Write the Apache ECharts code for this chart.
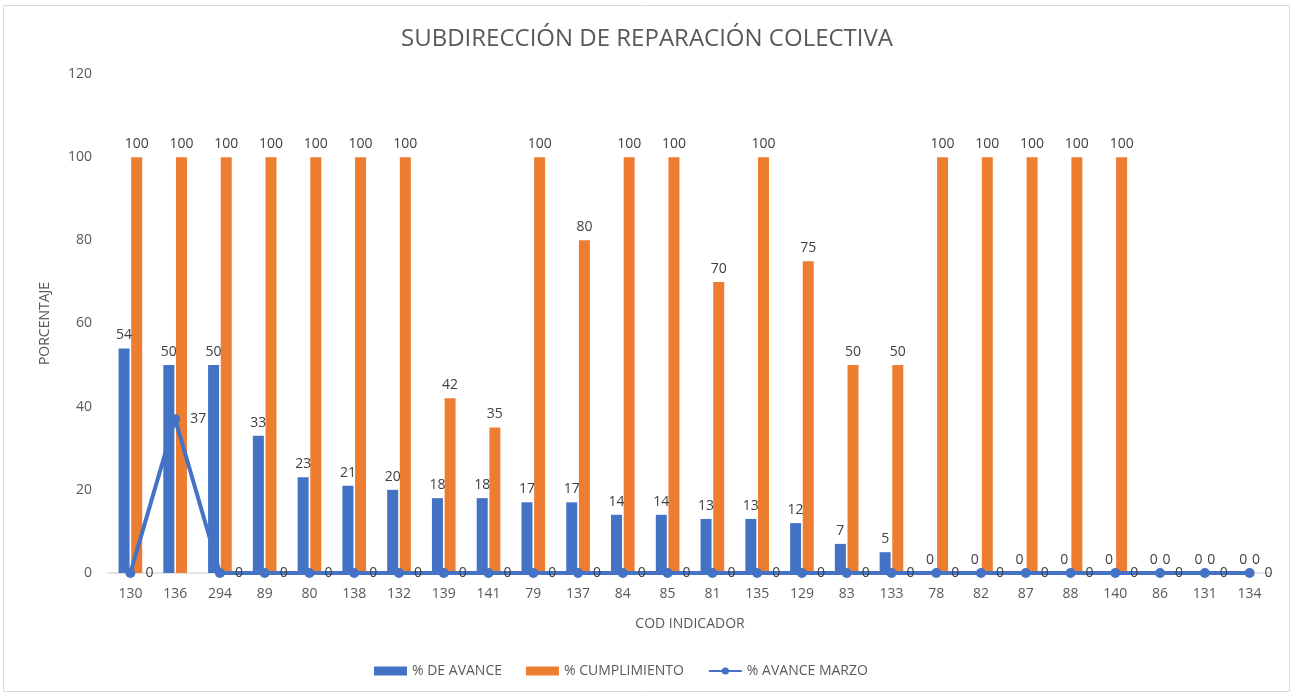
<!DOCTYPE html>
<html>
<head>
<meta charset="utf-8">
<script src="https://cdn.jsdelivr.net/npm/echarts@6/dist/echarts.min.js"></script>
<style>
  html, body { margin: 0; padding: 0; background: #fff; }
  #chart { width: 1294px; height: 696px; }
</style>
</head>
<body>
<div id="chart"></div>
<script>
// categories (COD INDICADOR)
const codes = ['130', '136', '294', '89', '80', '138', '132', '139', '141', '79', '137', '84', '85',
  '81', '135', '129', '83', '133', '78', '82', '87', '88', '140', '86', '131', '134'];

// series values
const avance = [54, 50, 50, 33, 23, 21, 20, 18, 18, 17, 17, 14, 14, 13, 13, 12, 7, 5, 0, 0, 0, 0, 0, 0, 0, 0];
const cumplimiento = [100, 100, 100, 100, 100, 100, 100, 42, 35, 100, 80, 100, 100, 70, 100, 75, 50, 50,
  100, 100, 100, 100, 100, 0, 0, 0];
const avanceMarzo = [0, 37, 0, 0, 0, 0, 0, 0, 0, 0, 0, 0, 0, 0, 0, 0, 0, 0, 0, 0, 0, 0, 0, 0, 0, 0];

const yTicks = { min: 0, max: 120, interval: 20 };

const chart = echarts.init(document.getElementById('chart'));
const font = 'Open Sans';
const labelStyle = { show: true, position: 'top', color: '#404040', fontSize: 14, fontFamily: font, distance: 6 };

chart.setOption({
  animation: false,
  textStyle: { fontFamily: font },
  graphic: [{
    type: 'rect',
    shape: { x: 3.5, y: 5.5, width: 1286, height: 686 },
    style: { fill: 'none', stroke: '#d9d9d9', lineWidth: 1 },
    silent: true
  }],
  title: {
    text: 'SUBDIRECCIÓN DE REPARACIÓN COLECTIVA',
    left: 'center',
    top: 22,
    textStyle: { fontFamily: font, fontSize: 24, fontWeight: 'normal', color: '#595959' }
  },
  legend: {
    bottom: 13,
    left: 369,
    itemGap: 24,
    itemWidth: 33,
    itemHeight: 9,
    textStyle: { fontFamily: font, fontSize: 14, color: '#595959' },
    data: [
      { name: '% DE AVANCE', icon: 'rect' },
      { name: '% CUMPLIMIENTO', icon: 'rect' },
      { name: '% AVANCE MARZO' }
    ]
  },
  grid: { left: 108, right: 22, top: 74, bottom: 123 },
  xAxis: {
    type: 'category',
    data: codes,
    name: 'COD INDICADOR',
    nameLocation: 'middle',
    nameGap: 44,
    nameTextStyle: { fontFamily: font, fontSize: 14, color: '#595959' },
    axisLine: { lineStyle: { color: '#d9d9d9', width: 1.5 } },
    axisTick: { show: false },
    axisLabel: { color: '#595959', fontSize: 14, fontFamily: font, margin: 14 }
  },
  yAxis: {
    type: 'value',
    min: yTicks.min,
    max: yTicks.max,
    interval: yTicks.interval,
    name: 'PORCENTAJE',
    nameLocation: 'middle',
    nameGap: 56,
    nameRotate: 90,
    nameTextStyle: { fontFamily: font, fontSize: 14, color: '#595959' },
    axisLine: { show: false },
    axisTick: { show: false },
    splitLine: { show: false },
    axisLabel: { color: '#595959', fontSize: 14, fontFamily: font, margin: 16 }
  },
  series: [
    {
      name: '% DE AVANCE',
      type: 'bar',
      data: avance,
      barWidth: 11,
      barGap: '15%',
      itemStyle: { color: '#4472C4' },
      label: labelStyle
    },
    {
      name: '% CUMPLIMIENTO',
      type: 'bar',
      data: cumplimiento,
      barWidth: 11,
      itemStyle: { color: '#ED7D31' },
      label: labelStyle
    },
    {
      name: '% AVANCE MARZO',
      type: 'line',
      data: avanceMarzo,
      symbol: 'circle',
      symbolSize: 10,
      lineStyle: { color: '#4472C4', width: 4 },
      itemStyle: { color: '#4472C4', borderWidth: 0 },
      emphasis: { disabled: true },
      label: { show: true, position: 'right', distance: 10, color: '#404040', fontSize: 14, fontFamily: font },
      z: 3
    }
  ]
});
</script>
</body>
</html>
